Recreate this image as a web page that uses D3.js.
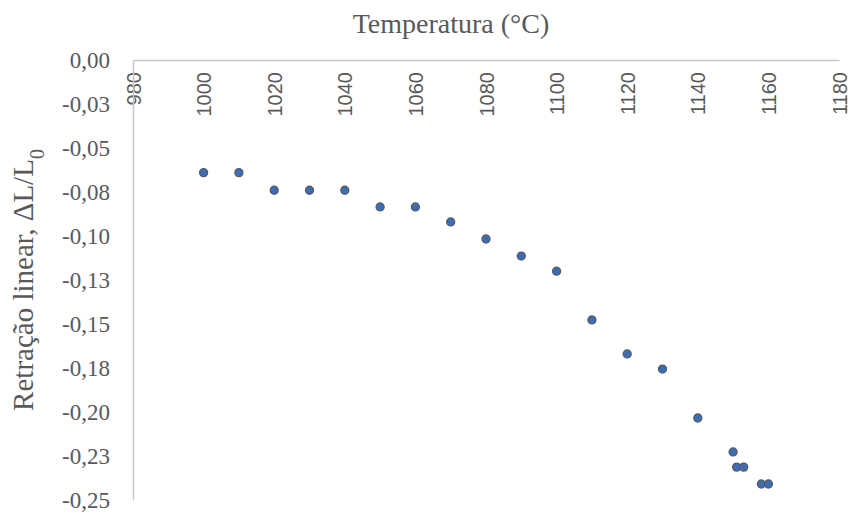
<!DOCTYPE html>
<html>
<head>
<meta charset="utf-8">
<script src="https://cdn.jsdelivr.net/npm/d3@7"></script>
<style>
  body { margin: 0; background: #fff; }
</style>
</head>
<body>
<div id="chart"></div>
<script>
// temperatures (°C) and linear shrinkage
const temps = [1000, 1010, 1020, 1030, 1040, 1050, 1060, 1070, 1080, 1090, 1100,
               1110, 1120, 1130, 1140, 1150, 1151, 1153, 1158, 1160];
const shrink = [-0.064, -0.064, -0.074, -0.074, -0.074, -0.0835, -0.0835, -0.092, -0.1017, -0.1114, -0.12,
                -0.1477, -0.167, -0.1756, -0.2034, -0.2227, -0.2313, -0.2313, -0.2409, -0.2409];
const xTicks = [980, 1000, 1020, 1040, 1060, 1080, 1100, 1120, 1140, 1160, 1180];
const yTicks = [0, -0.025, -0.05, -0.075, -0.1, -0.125, -0.15, -0.175, -0.2, -0.225, -0.25];
const yTickLabels = ["0,00", "-0,03", "-0,05", "-0,08", "-0,10", "-0,13", "-0,15", "-0,18", "-0,20", "-0,23", "-0,25"];

const width = 851, height = 513;
const mLeft = 133, mRight = 839, mTop = 60, mBottom = 500;

const svg = d3.select('#chart')
    .append('svg')
    .attr('width', width)
    .attr('height', height);

const x = d3.scaleLinear().domain([980, 1180]).range([mLeft, mRight]);
const y = d3.scaleLinear().domain([0, -0.25]).range([mTop, mBottom]);

// x axis on top (at y = 0)
const gx = svg.append('g')
    .attr('transform', `translate(0,${y(0)})`)
    .call(d3.axisTop(x).tickValues(xTicks).tickSize(0).tickFormat(d3.format('d')));
gx.select('.domain').attr('stroke', '#c8c8c8').attr('stroke-width', 1.5);
gx.selectAll('text')
    .attr('transform', 'rotate(-90)')
    .attr('x', -12)
    .attr('y', 0)
    .attr('dy', '0.35em')
    .attr('text-anchor', 'end')
    .attr('fill', '#595959')
    .style('font-family', '"Liberation Sans", Arial, sans-serif')
    .style('font-size', '20px');

// y axis
const gy = svg.append('g')
    .attr('transform', `translate(${mLeft},0)`)
    .call(d3.axisLeft(y).tickValues(yTicks).tickSize(0).tickFormat((d, i) => yTickLabels[i]));
gy.select('.domain').attr('stroke', '#c8c8c8').attr('stroke-width', 1.5);
gy.selectAll('text')
    .attr('x', -23)
    .attr('fill', '#595959')
    .style('font-family', '"Liberation Serif", "Times New Roman", serif')
    .style('font-size', '23px');

// points
svg.append('g')
    .selectAll('circle')
    .data(temps.map((t, i) => ({ t: t, v: shrink[i] })))
    .join('circle')
    .attr('cx', d => x(d.t))
    .attr('cy', d => y(d.v))
    .attr('r', 4)
    .attr('fill', '#3b6db5')
    .attr('stroke', '#555a63')
    .attr('stroke-width', 1.3);

// titles
svg.append('text')
    .attr('x', 451).attr('y', 33)
    .attr('text-anchor', 'middle')
    .attr('fill', '#595959')
    .style('font-family', '"Liberation Serif", "Times New Roman", serif')
    .style('font-size', '28px')
    .text('Temperatura (°C)');

const yt = svg.append('text')
    .attr('transform', `translate(33,${(mTop + mBottom) / 2}) rotate(-90)`)
    .attr('text-anchor', 'middle')
    .attr('fill', '#595959')
    .style('font-family', '"Liberation Serif", "Times New Roman", serif')
    .style('font-size', '29px');
yt.append('tspan').text('Retração linear, ΔL/L');
yt.append('tspan').attr('baseline-shift', 'sub').style('font-size', '20px').text('0');
</script>
</body>
</html>
